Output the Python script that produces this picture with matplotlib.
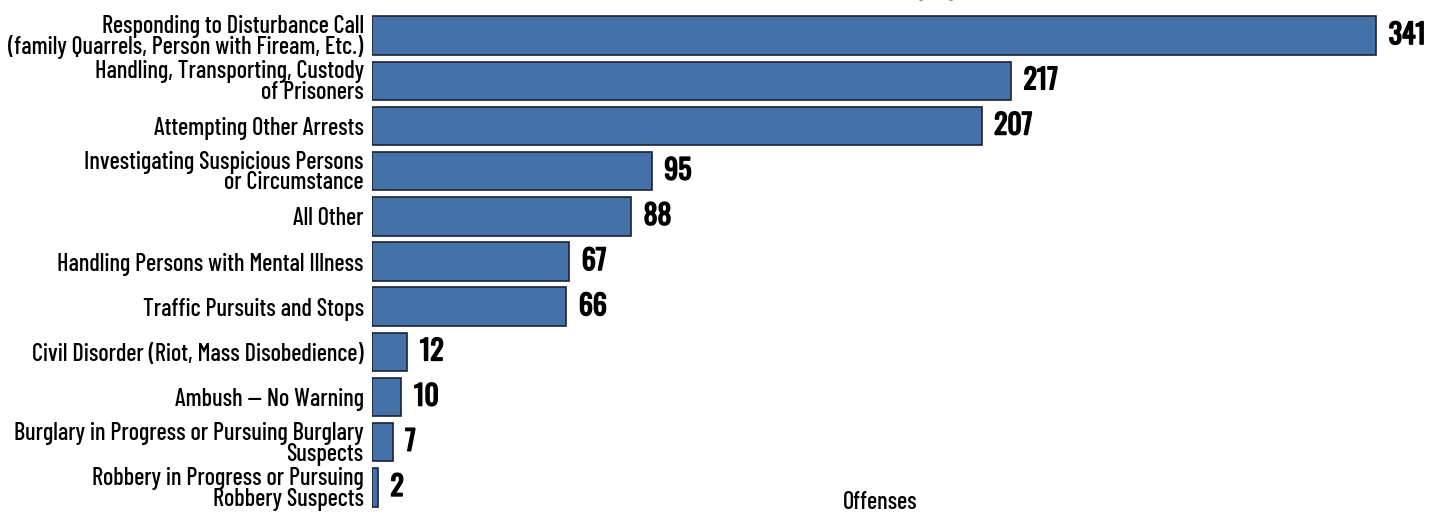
import matplotlib
matplotlib.use('Agg')
import matplotlib.pyplot as plt
import matplotlib.patheffects as pe

# Данные
categories = [
    'Responding to Disturbance Call\n(family Quarrels, Person with Fiream, Etc.)',
    'Handling, Transporting, Custody\nof Prisoners',
    'Attempting Other Arrests',
    'Investigating Suspicious Persons\nor Circumstance',
    'All Other',
    'Handling Persons with Mental Illness',
    'Traffic Pursuits and Stops',
    'Civil Disorder (Riot, Mass Disobedience)',
    'Ambush \u2014 No Warning',
    'Burglary in Progress or Pursuing Burglary\nSuspects',
    'Robbery in Progress or Pursuing\nRobbery Suspects',
]
values = [341, 217, 207, 95, 88, 67, 66, 12, 10, 7, 2]

title = 'Circumstance by Type'
x_label = 'Offenses'

label_font = ['Barlow Condensed', 'Roboto Condensed', 'Fira Sans Extra Condensed', 'DejaVu Sans']
value_font = ['Oswald', 'Barlow Condensed', 'DejaVu Sans']
plt.rcParams['font.family'] = label_font

fig = plt.figure(figsize=(14.39, 5.15), dpi=100)
ax = fig.add_axes([372 / 1439, 1 - 510 / 515, (1388 - 372) / 1439, 497 / 515])

y = list(range(len(categories)))
ax.barh(y, values, height=0.85, color='#4472a8', edgecolor='#1c2233', linewidth=1.2)
ax.set_ylim(len(categories) - 0.5, -0.5)
ax.set_xlim(0, 345)

# подписи значений (Oswald жирнее через обводку)
for yi, v in zip(y, values):
    ax.annotate(str(v), (v, yi), xytext=(9, 0), textcoords='offset points',
                va='center', ha='left', fontsize=20, fontweight='bold', family=value_font,
                path_effects=[pe.withStroke(linewidth=1.1, foreground='black')])

ax.set_yticks(y)
ax.set_yticklabels(categories, fontsize=17.5, fontweight='medium', linespacing=0.88)
ax.tick_params(axis='y', length=0, pad=6)
ax.set_xticks([])
for s in ax.spines.values():
    s.set_visible(False)

fig.text(880 / 1439, 6 / 515, x_label, ha='center', va='baseline',
         fontsize=17.5, fontweight='medium')

fig.text(985 / 1439, 1 + 5 / 515, title, ha='right', va='baseline',
         fontsize=20, fontweight='bold')

fig.savefig('out.png', dpi=100)
